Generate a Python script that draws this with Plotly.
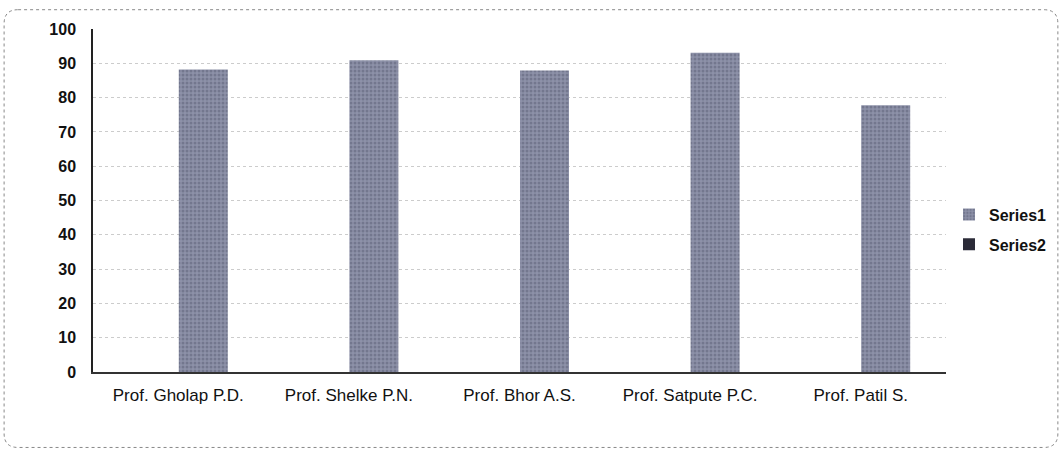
import plotly.graph_objects as go

categories = ["Prof. Gholap P.D.", "Prof. Shelke P.N.", "Prof. Bhor A.S.",
              "Prof. Satpute P.C.", "Prof. Patil S."]
series1 = [88.2, 90.9, 87.9, 93.1, 77.8]
series2 = [None, None, None, None, None]

W, H = 1063, 451
L, R, T, B = 93, 947, 29.3, 372.5

def px(x):
    return (x - L) / (R - L)

def py(y):
    return (B - y) / (B - T)

fig = go.Figure()
fig.add_trace(go.Bar(
    x=categories, y=series2, name="Series2", legendgroup="b",
    marker=dict(color="#2b2b38", line=dict(width=0)),
    legendrank=2,
))
fig.add_trace(go.Bar(
    x=categories, y=series1, name="Series1", legendgroup="a",
    marker=dict(color="#7f839b", line=dict(width=0),
                pattern=dict(shape=".", fgcolor="#595d74", bgcolor="#8d91a8",
                             size=4, solidity=0.45)),
    legendrank=1,
))

# rounded dotted border around whole chart
x0, x1, y0, y1, r = 4, 1059, 10, 448, 14
path = (f"M {px(x0+r)},{py(y0)} L {px(x1-r)},{py(y0)} "
        f"Q {px(x1)},{py(y0)} {px(x1)},{py(y0+r)} L {px(x1)},{py(y1-r)} "
        f"Q {px(x1)},{py(y1)} {px(x1-r)},{py(y1)} L {px(x0+r)},{py(y1)} "
        f"Q {px(x0)},{py(y1)} {px(x0)},{py(y1-r)} L {px(x0)},{py(y0+r)} "
        f"Q {px(x0)},{py(y0)} {px(x0+r)},{py(y0)} Z")
fig.add_shape(type="path", path=path, xref="paper", yref="paper",
              line=dict(color="#888888", width=1, dash="dot"), layer="below")

fig.update_layout(
    width=W, height=H,
    margin=dict(l=L, r=W - R, t=T, b=H - B),
    plot_bgcolor="white", paper_bgcolor="white",
    barmode="group", bargap=0.414, bargroupgap=0.02,
    font=dict(family="Liberation Sans, Arial, sans-serif", size=17, color="#111111"),
    showlegend=True,
    legend=dict(x=px(949), y=py(230), xanchor="left", yanchor="middle",
                traceorder="grouped", tracegroupgap=6,
                font=dict(size=16, color="#111111", weight="bold"),
                itemwidth=30, bgcolor="rgba(0,0,0,0)"),
    xaxis=dict(showline=True, linecolor="#333333", linewidth=1.5,
               ticks="", showgrid=False, tickfont=dict(size=17),
               ticklabelstandoff=7),
    yaxis=dict(range=[0, 100], dtick=10, showline=True, linecolor="#222222",
               linewidth=1.5, showgrid=True, gridcolor="#cccccc",
               griddash="dot", gridwidth=1, ticks="", zeroline=False,
               tickfont=dict(size=16, weight="bold"),
               ticklabelstandoff=12),
)

fig.write_html("out.html", config={"displayModeBar": False},
               post_script="document.body.style.margin='0';document.body.style.overflow='hidden';")
